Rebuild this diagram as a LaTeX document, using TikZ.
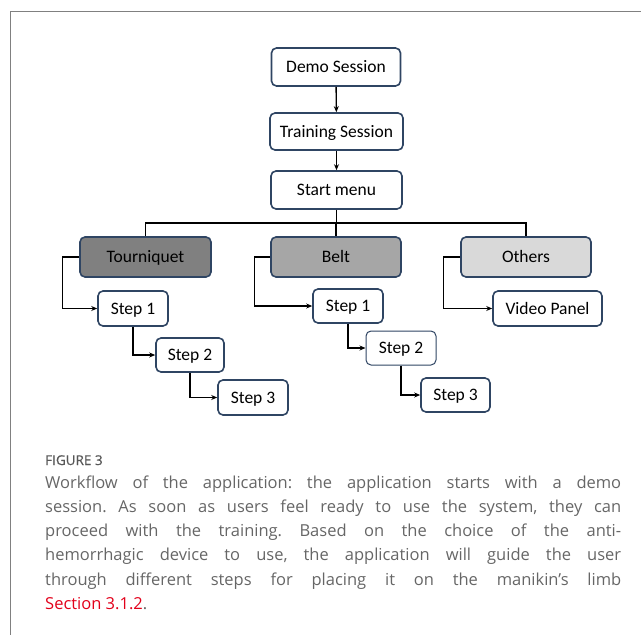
\documentclass[tikz,border=0pt]{standalone}
\usepackage{fontspec}
\setmainfont{Carlito}
\newfontfamily\capfont{Open Sans}
\newfontfamily\capbold[FakeBold=0.6]{Open Sans}
\usetikzlibrary{arrows.meta}
\definecolor{boxLine}{HTML}{2F4563}
\definecolor{capGray}{HTML}{666666}
\definecolor{secRed}{HTML}{E2001A}
\tikzset{
  boxAll/.style={draw=boxLine, line width=1.6pt, rounded corners=5pt, fill=white,
    inner sep=0pt, minimum height=35pt, text height=11.3pt, text depth=0pt,
    font=\fontsize{17.5}{20}\selectfont},
  boxTop/.style={minimum width=131pt, minimum height=38pt},
  boxDark/.style={fill=black!50},
  boxMid/.style={fill=black!35},
  boxLight/.style={fill=black!15},
  boxStep/.style={minimum width=70pt},
  link/.style={line width=1.4pt, draw=black},
  arrowLink/.style={link, -{Stealth[length=6pt,width=5pt]}}
}

\begin{document}
\begin{tikzpicture}[x=1pt, y=-1pt]
  \useasboundingbox (0,0) rectangle (641,635);
  \draw[black!50, line width=0.9pt] (10,635) -- (10,11) -- (641,11);

  \node[boxAll, boxTop, minimum width=129pt] (DS) at (336,67) {Demo Session};
  \node[boxAll, boxTop, minimum width=133pt, minimum height=37pt] (TS) at (336.5,131.5) {Training Session};
  \node[boxAll, boxTop] (SM) at (336.5,190) {Start menu};

  \node[boxAll, boxTop, boxDark, minimum height=40pt] (TQ) at (145.5,257) {Tourniquet};
  \node[boxAll, boxTop, boxMid, minimum height=40pt, minimum width=130pt] (BT) at (336,257) {Belt};
  \node[boxAll, boxTop, boxLight, minimum height=40pt, minimum width=130pt] (OT) at (526,257) {Others};

  \node[boxAll, boxStep] (TQ-1) at (133,308.5) {Step 1};
  \node[boxAll, boxStep, minimum width=68pt, minimum height=34pt] (TQ-2) at (190,355) {Step 2};
  \node[boxAll, boxStep] (TQ-3) at (253,397.5) {Step 3};

  \node[boxAll, boxStep, minimum height=34pt] (BT-1) at (348,306) {Step 1};
  \node[boxAll, boxStep, minimum height=34pt, line width=1pt] (BT-2) at (401,348) {Step 2};
  \node[boxAll, boxStep, minimum width=69pt, minimum height=34pt] (BT-3) at (455.5,395) {Step 3};

  \node[boxAll, minimum width=109pt] (VP) at (547.5,308.5) {Video Panel};

  \coordinate (bus) at (336.5,223);

  \path[arrowLink]
    (DS) edge (TS)
    (TS) edge (SM);
  \draw[link] (SM) -- (bus);
  \draw[link] (TQ.north) |- (bus) -| (OT.north);
  \draw[link] (bus) -| (BT.north);

  \draw[arrowLink] (TQ.west) -- ++(-17,0) |- (TQ-1);
  \draw[arrowLink] (TQ-1.south) |- (TQ-2);
  \draw[arrowLink] (TQ-2.south) |- (TQ-3);

  \draw[arrowLink] (BT.west) -- ++(-16,0) |- (BT-1);
  \draw[arrowLink] (BT-1.south) |- (BT-2);
  \draw[arrowLink] (BT-2.south) |- (BT-3);

  \draw[arrowLink] (OT.west) -- ++(-17,0) |- (VP);

  % caption
  \node[anchor=base west, inner sep=0pt, text=capGray!85!black,
    font=\capbold\fontsize{13.5}{16}\selectfont] (figLabel) at (45,465) {FIGURE 3};
  \node[anchor=north west, inner sep=0pt, text width=576pt, align=justify, text=capGray,
    font=\capfont\fontsize{16.5}{24.2}\selectfont\frenchspacing] (capText) at (45,475.5)
    {Workflow of the application: the application starts with a demo\linebreak
     session. As soon as users feel ready to use the system, they can\linebreak
     proceed with the training. Based on the choice of the anti-\linebreak
     hemorrhagic device to use, the application will guide the user\linebreak
     through different steps for placing it on the manikin’s limb\linebreak
     \textcolor{secRed}{Section 3.1.2}.};
\end{tikzpicture}
\end{document}
